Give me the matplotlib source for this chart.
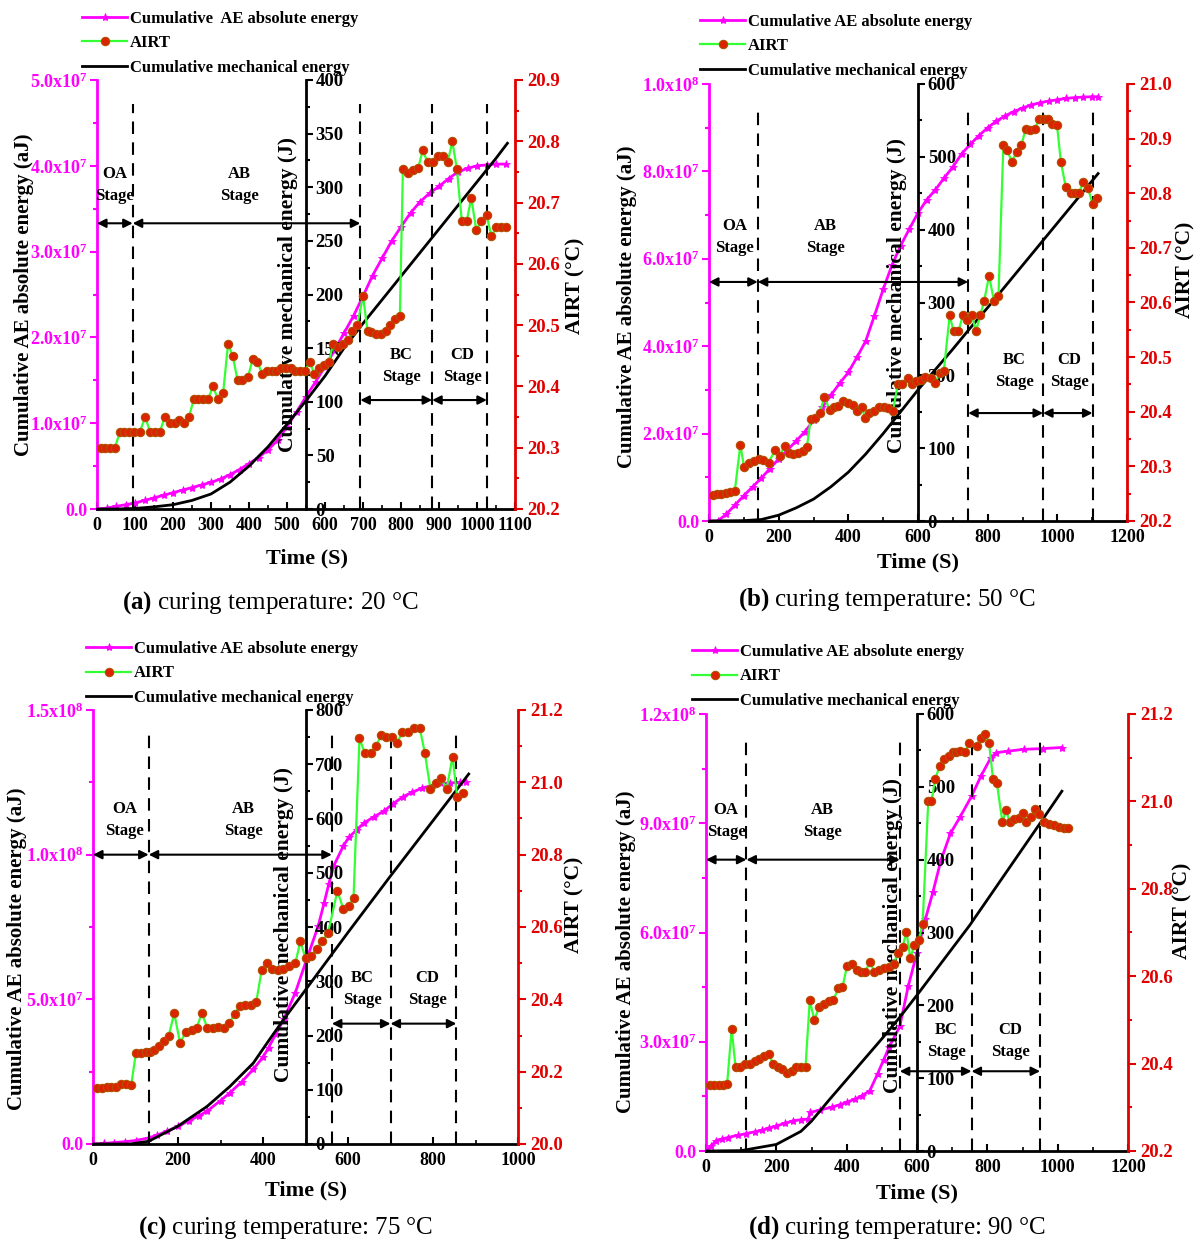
import numpy as np
import matplotlib.pyplot as plt
from matplotlib.ticker import MultipleLocator, FuncFormatter

plt.rcParams['font.family'] = 'Liberation Serif'
plt.rcParams['font.weight'] = 'bold'
plt.rcParams['mathtext.fontset'] = 'custom'
plt.rcParams['mathtext.rm'] = 'Liberation Serif:bold'
plt.rcParams['mathtext.bf'] = 'Liberation Serif:bold'
plt.rcParams['mathtext.it'] = 'Liberation Serif:bold'

MAGENTA = '#FF00FF'
RED = '#E00000'
GREEN = '#33FF33'

# ---------------- (a) 20 C ----------------
a_ae_t = [0, 25, 50, 75, 100, 125, 150, 175, 200, 225, 250, 275, 300, 325, 350, 375, 400, 425,
          450, 475, 500, 525, 550, 575, 600, 625, 650, 675, 700, 725, 750, 775, 800, 825, 850,
          875, 900, 925, 950, 975, 1000, 1025, 1050, 1075]
a_ae = [0, 0.01, 0.03, 0.05, 0.07, 0.10, 0.13, 0.16, 0.19, 0.22, 0.25, 0.28, 0.31, 0.35, 0.40,
        0.46, 0.53, 0.60, 0.69, 0.80, 0.96, 1.13, 1.31, 1.48, 1.66, 1.85, 2.05, 2.25, 2.48,
        2.72, 2.92, 3.12, 3.29, 3.45, 3.58, 3.68, 3.76, 3.85, 3.93, 3.97, 4.00, 4.01, 4.02, 4.02]
a_airt_t = [10, 22, 35, 47, 60, 72, 85, 97, 112, 127, 140, 152, 165, 178, 192, 205, 217, 230,
            242, 255, 267, 280, 293, 305, 318, 332, 345, 357, 370, 382, 397, 410, 422, 435,
            447, 460, 472, 485, 497, 510, 522, 535, 547, 560, 572, 585, 597, 610, 622, 635,
            647, 660, 672, 685, 700, 712, 722, 735, 747, 760, 772, 785, 797, 805, 818, 832,
            845, 857, 870, 885, 897, 910, 923, 935, 947, 960, 973, 985, 998, 1011, 1025,
            1038, 1051, 1063, 1075]
a_airt = [20.30, 20.30, 20.30, 20.30, 20.325, 20.325, 20.325, 20.325, 20.325, 20.35, 20.325,
          20.325, 20.325, 20.35, 20.34, 20.34, 20.345, 20.34, 20.35, 20.38, 20.38, 20.38,
          20.38, 20.40, 20.38, 20.39, 20.47, 20.45, 20.41, 20.41, 20.415, 20.445, 20.44,
          20.42, 20.425, 20.425, 20.425, 20.43, 20.43, 20.43, 20.425, 20.425, 20.425, 20.44,
          20.42, 20.43, 20.435, 20.44, 20.47, 20.465, 20.47, 20.475, 20.49, 20.50, 20.548,
          20.49, 20.488, 20.485, 20.485, 20.49, 20.50, 20.51, 20.515, 20.755, 20.748, 20.753,
          20.756, 20.785, 20.766, 20.766, 20.776, 20.776, 20.766, 20.80, 20.755, 20.67, 20.67,
          20.708, 20.655, 20.67, 20.68, 20.645, 20.66, 20.66, 20.66]
a_mech_t = [0, 50, 100, 150, 200, 250, 300, 350, 400, 450, 500, 550, 600, 650, 700, 750, 800,
            850, 900, 950, 1000, 1050, 1080]
a_mech = [0, 0, 0.5, 2, 4, 8, 14, 25, 40, 58, 79, 101, 124, 150, 173, 195, 217, 239, 261, 283,
          305, 327, 341]
a_stages = [94, 693, 882, 1026]

# ---------------- (b) 50 C ----------------
b_ae_t = [0, 25, 50, 75, 100, 125, 150, 175, 200, 225, 250, 275, 300, 325, 350, 375, 400, 425,
          450, 475, 500, 525, 550, 575, 600, 625, 650, 675, 700, 725, 750, 775, 800, 825, 850,
          875, 900, 925, 950, 975, 1000, 1025, 1050, 1075, 1100, 1117]
b_ae = [0, 0, 0.16, 0.37, 0.58, 0.78, 0.98, 1.2, 1.42, 1.62, 1.83, 2.04, 2.3, 2.6, 2.88, 3.15,
        3.4, 3.75, 4.12, 4.7, 5.3, 5.85, 6.3, 6.68, 7.05, 7.35, 7.58, 7.85, 8.1, 8.4, 8.62,
        8.82, 9.0, 9.15, 9.27, 9.37, 9.45, 9.52, 9.57, 9.61, 9.64, 9.67, 9.69, 9.70, 9.71, 9.71]
b_airt_t = [11, 22, 35, 48, 61, 74, 90, 101, 116, 129, 143, 156, 171, 190, 204, 217, 230, 242,
            256, 269, 281, 292, 305, 318, 331, 346, 360, 371, 385, 399, 412, 424, 438, 449,
            460, 473, 487, 501, 515, 528, 542, 555, 570, 583, 595, 608, 621, 636, 649, 663,
            674, 691, 702, 716, 729, 742, 755, 766, 779, 790, 804, 818, 831, 845, 856, 869,
            884, 897, 909, 922, 936, 947, 961, 974, 986, 999, 1010, 1024, 1038, 1051, 1063,
            1074, 1088, 1101, 1115]
b_airt = [20.248, 20.249, 20.25, 20.252, 20.253, 20.255, 20.339, 20.298, 20.307, 20.309,
          20.313, 20.311, 20.307, 20.33, 20.319, 20.338, 20.325, 20.323, 20.325, 20.328,
          20.336, 20.386, 20.389, 20.398, 20.427, 20.404, 20.408, 20.41, 20.419, 20.416,
          20.412, 20.401, 20.408, 20.388, 20.398, 20.401, 20.408, 20.408, 20.407, 20.401,
          20.45, 20.451, 20.462, 20.451, 20.456, 20.459, 20.463, 20.461, 20.453, 20.471,
          20.474, 20.577, 20.547, 20.547, 20.577, 20.568, 20.577, 20.547, 20.577, 20.603,
          20.649, 20.603, 20.612, 20.888, 20.879, 20.858, 20.876, 20.888, 20.918, 20.915,
          20.918, 20.936, 20.936, 20.936, 20.927, 20.925, 20.858, 20.812, 20.801, 20.801,
          20.801, 20.821, 20.809, 20.781, 20.791]
b_mech_t = [0, 100, 150, 200, 250, 300, 350, 400, 450, 500, 550, 600, 650, 700, 750, 800, 850,
            900, 950, 1000, 1050, 1117]
b_mech = [0, 0.5, 2, 8, 18, 30, 47, 67, 92, 120, 150, 180, 208, 236, 265, 293, 322, 351, 380,
          409, 438, 477]
b_stages = [140, 744, 959, 1101]

# ---------------- (c) 75 C ----------------
c_ae_t = [0, 25, 50, 75, 100, 131, 150, 175, 200, 225, 250, 268, 300, 322, 350, 377, 400, 413,
          430, 449, 476, 503, 530, 544, 555, 566, 589, 602, 620, 638, 660, 684, 705, 729, 750,
          774, 800, 819, 840, 864, 877]
c_ae = [0, 0.02, 0.05, 0.08, 0.12, 0.21, 0.3, 0.45, 0.61, 0.8, 0.98, 1.13, 1.5, 1.77, 2.15,
        2.58, 3.0, 3.33, 3.8, 4.31, 5.23, 6.39, 7.54, 8.34, 9.0, 9.6, 10.3, 10.6, 10.85, 11.1,
        11.3, 11.5, 11.75, 12.0, 12.15, 12.3, 12.4, 12.46, 12.48, 12.5, 12.52]
c_airt_t = [9, 20, 32, 42, 53, 65, 77, 90, 101, 112, 124, 135, 144, 155, 166, 178, 191, 205,
            218, 232, 244, 256, 269, 282, 295, 309, 321, 333, 345, 358, 372, 384, 397, 410,
            422, 435, 448, 462, 476, 488, 500, 514, 526, 539, 553, 575, 589, 602, 613, 627,
            640, 654, 666, 678, 690, 703, 716, 728, 742, 756, 769, 781, 794, 807, 819, 832,
            846, 857, 870]
c_airt = [20.155, 20.156, 20.157, 20.158, 20.158, 20.166, 20.166, 20.164, 20.252, 20.252,
          20.253, 20.253, 20.261, 20.272, 20.284, 20.298, 20.362, 20.279, 20.309, 20.316,
          20.321, 20.362, 20.321, 20.322, 20.323, 20.321, 20.335, 20.36, 20.381, 20.383,
          20.385, 20.392, 20.482, 20.5, 20.484, 20.482, 20.484, 20.491, 20.5, 20.56, 20.514,
          20.519, 20.539, 20.56, 20.583, 20.70, 20.65, 20.659, 20.68, 21.122, 21.08, 21.08,
          21.1, 21.131, 21.126, 21.124, 21.11, 21.14, 21.14, 21.149, 21.149, 21.08, 20.981,
          20.999, 21.011, 20.981, 21.071, 20.959, 20.97]
c_mech_t = [0, 88, 131, 200, 268, 322, 377, 413, 449, 500, 550, 600, 650, 700, 750, 800, 850, 884]
c_mech = [0, 0, 5, 33, 69, 106, 149, 190, 230, 284, 337, 390, 442, 494, 545, 596, 647, 682]
c_stages = [131, 562, 700, 855]

# ---------------- (d) 90 C ----------------
d_ae_t = [0, 15, 29, 45, 62, 90, 115, 140, 160, 180, 200, 225, 248, 270, 291, 297, 325, 357,
          380, 401, 425, 444, 466, 488, 505, 521, 551, 575, 600, 624, 645, 668, 695, 723, 755,
          782, 810, 826, 859, 903, 957, 1011]
d_ae = [0, 0.15, 0.28, 0.33, 0.37, 0.43, 0.48, 0.53, 0.57, 0.63, 0.69, 0.76, 0.83, 0.86,
        0.88, 1.06, 1.13, 1.2, 1.27, 1.34, 1.43, 1.52, 1.66, 2.12, 2.5, 2.86, 3.42, 4.52, 5.45,
        6.37, 7.1, 7.98, 8.72, 9.18, 9.74, 10.3, 10.8, 10.94, 10.98, 11.03, 11.05, 11.08]
d_airt_t = [11, 24, 37, 49, 60, 73, 84, 97, 111, 126, 139, 152, 166, 179, 191, 204, 217, 231,
            245, 257, 270, 283, 295, 308, 322, 335, 349, 362, 376, 388, 401, 414, 428, 442,
            453, 466, 479, 493, 507, 521, 534, 545, 559, 570, 581, 592, 605, 616, 632, 641,
            652, 665, 677, 690, 701, 712, 723, 737, 748, 770, 781, 794, 805, 816, 827, 843,
            853, 864, 876, 890, 901, 911, 924, 935, 948, 962, 976, 989, 1003, 1017, 1028]
d_airt = [20.351, 20.351, 20.351, 20.351, 20.353, 20.48, 20.392, 20.392, 20.398, 20.398,
          20.407, 20.411, 20.418, 20.422, 20.399, 20.392, 20.388, 20.378, 20.384, 20.392,
          20.392, 20.392, 20.545, 20.5, 20.53, 20.537, 20.543, 20.545, 20.572, 20.575,
          20.623, 20.629, 20.615, 20.61, 20.61, 20.633, 20.61, 20.615, 20.619, 20.621,
          20.629, 20.652, 20.667, 20.702, 20.641, 20.671, 20.683, 20.72, 21.0, 21.0, 21.052,
          21.082, 21.096, 21.105, 21.113, 21.113, 21.115, 21.113, 21.133, 21.127, 21.146,
          21.154, 21.133, 21.052, 21.042, 20.952, 20.981, 20.952, 20.959, 20.963, 20.973,
          20.954, 20.965, 20.982, 20.972, 20.954, 20.948, 20.946, 20.942, 20.938, 20.938]
d_mech_t = [0, 100, 200, 270, 300, 350, 400, 450, 500, 550, 600, 650, 700, 750, 800, 850, 900,
            950, 1012]
d_mech = [0, 0.5, 9, 27, 41, 70, 98, 126, 154, 183, 214, 246, 278, 310, 345, 380, 415, 450, 494]
d_stages = [115, 551, 755, 950]

captions = ['(a)', '(b)', '(c)', '(d)']
cure_temps = [20, 50, 75, 90]
leg_ae = ['Cumulative  AE absolute energy', 'Cumulative AE absolute energy',
          'Cumulative AE absolute energy', 'Cumulative AE absolute energy']


def sci_fmt(v, pos):
    if v < -1:
        return ''
    if abs(v) < 1:
        return '0.0'
    e = int(np.floor(np.log10(v) + 1e-9))
    return '%.1fx10$^{%d}$' % (v / 10 ** e, e)


W, H = 1204, 1244
fig = plt.figure(figsize=(W / 100, H / 100), dpi=100)

# layout in pixels: left, right, top, bottom of each plot box
boxes = [(97, 515, 80, 509), (709, 1127, 84, 521), (93, 518, 710, 1144), (706, 1128, 714, 1151)]

panels = [
    dict(ae_t=a_ae_t, ae=a_ae, airt_t=a_airt_t, airt=a_airt, mech_t=a_mech_t, mech=a_mech,
         stages=a_stages, xmax=1100, xstep=100, ae_max=5e7, ae_step=1e7, mech_max=400,
         mech_step=50, mid=550, tlo=20.2, thi=20.9, tstep=0.1, arrow1=3.33e7, arrow2=1.27e7,
         txt1=3.78e7, txt2=1.67e7, oa_x=46, ab_x=375, bc_x=800, cd_x=962,
         leftlab=(-0.175, 0.50), midlab=(0.457, 0.50), rightlab=(1.144, 0.52),
         leg=(82, 11), timelab=(307, 558), cap=(270, 603)),
    dict(ae_t=b_ae_t, ae=b_ae, airt_t=b_airt_t, airt=b_airt, mech_t=b_mech_t, mech=b_mech,
         stages=b_stages, xmax=1200, xstep=200, ae_max=1e8, ae_step=2e7, mech_max=600,
         mech_step=100, mid=600, tlo=20.2, thi=21.0, tstep=0.1, arrow1=5.47e7, arrow2=2.47e7,
         txt1=6.5e7, txt2=3.44e7, oa_x=74, ab_x=333, bc_x=876, cd_x=1035,
         leftlab=(-0.195, 0.49), midlab=(0.45, 0.517), rightlab=(1.139, 0.574),
         leg=(700, 14), timelab=(918, 562), cap=(887, 600)),
    dict(ae_t=c_ae_t, ae=c_ae, airt_t=c_airt_t, airt=c_airt, mech_t=c_mech_t, mech=c_mech,
         stages=c_stages, xmax=1000, xstep=200, ae_max=1.5e8, ae_step=5e7, mech_max=800,
         mech_step=100, mid=500, tlo=20.0, thi=21.2, tstep=0.2, arrow1=1.0e8, arrow2=4.16e7,
         txt1=1.12e8, txt2=5.35e7, oa_x=74, ab_x=354, bc_x=634, cd_x=787,
         leftlab=(-0.180, 0.45), midlab=(0.449, 0.505), rightlab=(1.134, 0.55),
         leg=(86, 641), timelab=(306, 1190), cap=(286, 1228)),
    dict(ae_t=d_ae_t, ae=d_ae, airt_t=d_airt_t, airt=d_airt, mech_t=d_mech_t, mech=d_mech,
         stages=d_stages, xmax=1200, xstep=200, ae_max=1.2e8, ae_step=3e7, mech_max=600,
         mech_step=100, mid=600, tlo=20.2, thi=21.2, tstep=0.2, arrow1=8.0e7, arrow2=2.19e7,
         txt1=9.06e7, txt2=3.03e7, oa_x=57, ab_x=330, bc_x=684, cd_x=865,
         leftlab=(-0.19, 0.455), midlab=(0.443, 0.494), rightlab=(1.13, 0.55),
         leg=(692, 644), timelab=(917, 1193), cap=(897, 1228)),
]

for k, p in enumerate(panels):
    l, r, t, b = boxes[k]
    ax = fig.add_axes([l / W, 1 - b / H, (r - l) / W, (b - t) / H])
    ax_m = ax.twinx()
    ax_r = ax.twinx()

    # AE (left, magenta)
    l_ae, = ax.plot(p['ae_t'], np.array(p['ae']) * 1e7, color=MAGENTA, lw=2, marker='*',
                    ms=6, mew=0.6)
    # mechanical energy (middle axis)
    l_me, = ax_m.plot(p['mech_t'], p['mech'], color='k', lw=2)
    # AIRT (right, red)
    l_ai, = ax_r.plot(p['airt_t'], p['airt'], color=GREEN, lw=1.6, marker='o', ms=6,
                      mfc='#DD2200', mec='#B05000', mew=0.8)

    ax.set_xlim(0, p['xmax'])
    ax.set_ylim(0, p['ae_max'])
    ax_m.set_ylim(0, p['mech_max'])
    ax_r.set_ylim(p['tlo'], p['thi'])

    # stage boundaries and arrows
    s = p['stages']
    for x in s:
        ax.axvline(x, ymin=0, ymax=0.945, color='k', ls=(0, (6, 4)), lw=1.5)
    segs = [(0, s[0], p['arrow1']), (s[0], s[1], p['arrow1']),
            (s[1], s[2], p['arrow2']), (s[2], s[3], p['arrow2'])]
    for x0, x1, y in segs:
        ax.annotate('', xy=(x1, y), xytext=(x0, y),
                    arrowprops=dict(arrowstyle='<|-|>', color='k', lw=1.5,
                                    shrinkA=0, shrinkB=0, mutation_scale=13))
    for name, x, y in [('OA', p['oa_x'], p['txt1']), ('AB', p['ab_x'], p['txt1']),
                       ('BC', p['bc_x'], p['txt2']), ('CD', p['cd_x'], p['txt2'])]:
        ax.text(x, y, name + '\nStage', ha='center', va='center', fontsize=12,
                linespacing=1.5)

    # spines
    ax.spines['top'].set_visible(False)
    ax.spines['right'].set_visible(False)
    ax.spines['left'].set_color(MAGENTA)
    ax.spines['left'].set_linewidth(2)
    ax.spines['bottom'].set_linewidth(2)
    for sp in ['top', 'left', 'bottom']:
        ax_m.spines[sp].set_visible(False)
        ax_r.spines[sp].set_visible(False)
    ax_m.spines['right'].set_position(('data', p['mid']))
    ax_m.spines['right'].set_linewidth(2)
    ax_r.spines['right'].set_color(RED)
    ax_r.spines['right'].set_linewidth(2)

    # ticks
    ax.xaxis.set_major_locator(MultipleLocator(p['xstep']))
    ax.xaxis.set_minor_locator(MultipleLocator(p['xstep'] / 2))
    ax.tick_params(axis='x', which='major', direction='in', length=5, width=1.5,
                   labelsize=13, pad=6)
    ax.tick_params(axis='x', which='minor', direction='in', length=3, width=1.2)
    ax.yaxis.set_major_locator(MultipleLocator(p['ae_step']))
    ax.yaxis.set_minor_locator(MultipleLocator(p['ae_step'] / 2))
    ax.yaxis.set_major_formatter(FuncFormatter(sci_fmt))
    ax.tick_params(axis='y', which='both', colors=MAGENTA, direction='out', width=1.5,
                   labelsize=13, pad=2)
    ax.tick_params(axis='y', which='major', length=5)
    ax.tick_params(axis='y', which='minor', length=3)

    ax_m.yaxis.set_major_locator(MultipleLocator(p['mech_step']))
    ax_m.yaxis.set_minor_locator(MultipleLocator(p['mech_step'] / 2))
    ax_m.tick_params(axis='y', which='both', direction='out', width=1.5, labelsize=13.5, pad=2)
    ax_m.tick_params(axis='y', which='major', length=5)
    ax_m.tick_params(axis='y', which='minor', length=3)

    ax_r.yaxis.set_major_locator(MultipleLocator(p['tstep']))
    ax_r.yaxis.set_minor_locator(MultipleLocator(p['tstep'] / 2))
    ax_r.yaxis.set_major_formatter(FuncFormatter(lambda v, pos: '%.1f' % v))
    ax_r.tick_params(axis='y', which='both', colors=RED, direction='out', width=1.5,
                     labelsize=13.5, pad=3)
    ax_r.tick_params(axis='y', which='major', length=6)
    ax_r.tick_params(axis='y', which='minor', length=3)

    # axis titles
    ax.text(*p['leftlab'], 'Cumulative AE absolute energy (aJ)', transform=ax.transAxes,
            rotation=90, ha='center', va='center', fontsize=15)
    ax.text(*p['midlab'], 'Cumulative mechanical energy (J)', transform=ax.transAxes,
            rotation=90, ha='center', va='center', fontsize=15.5)
    ax.text(*p['rightlab'], 'AIRT (°C)', transform=ax.transAxes,
            rotation=90, ha='center', va='center', fontsize=15.5)
    fig.text(p['timelab'][0] / W, 1 - p['timelab'][1] / H, 'Time (S)', ha='center',
             va='center', fontsize=16)
    fig.text(p['cap'][0] / W, 1 - p['cap'][1] / H,
             r'$\mathbf{%s}$ curing temperature: %d °C' % (captions[k], cure_temps[k]),
             ha='center', va='center', fontsize=18, fontweight='normal')

    fig.legend([l_ae, l_ai, l_me], [leg_ae[k], 'AIRT', 'Cumulative mechanical energy'],
               loc='upper left', bbox_to_anchor=(p['leg'][0] / W, 1 - p['leg'][1] / H),
               frameon=False, fontsize=12, handlelength=2.7, handletextpad=0.2,
               labelspacing=0.5, borderpad=0, borderaxespad=0, numpoints=1)

fig.savefig('out.png', dpi=100)
